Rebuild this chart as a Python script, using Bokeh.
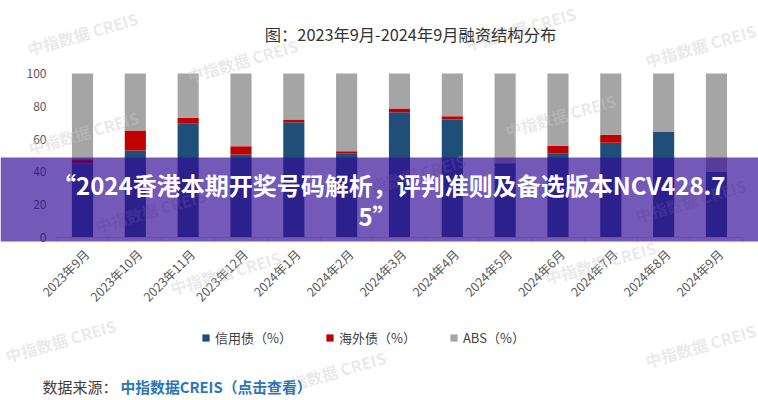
import math
from bokeh.plotting import figure
from bokeh.models import Label, BoxAnnotation, Legend, LegendItem, Range1d, ColumnDataSource
from bokeh.core.properties import value
from bokeh.embed import file_html
from bokeh.resources import INLINE

# ---- data ----
months = ["2023年9月", "2023年10月", "2023年11月", "2023年12月", "2024年1月", "2024年2月",
          "2024年3月", "2024年4月", "2024年5月", "2024年6月", "2024年7月", "2024年8月", "2024年9月"]
credit = [45.0, 53.0, 69.3, 50.6, 70.3, 51.0, 76.4, 72.0, 45.3, 51.0, 57.7, 64.6, 40.0]
overseas = [2.7, 12.2, 3.7, 5.1, 1.7, 1.6, 2.3, 2.0, 0.0, 5.0, 4.9, 0.0, 0.0]
abs_share = [52.3, 34.8, 27.0, 44.3, 28.0, 47.4, 21.3, 26.0, 54.7, 44.0, 37.4, 35.4, 60.0]
series = ["信用债（%）", "海外债（%）", "ABS（%）"]
y_ticks = [0, 20, 40, 60, 80, 100]
y_tick_labels = ["0", "20", "40", "60", "80", "100"]

title_text = "图：2023年9月-2024年9月融资结构分布"
banner_line1 = "“2024香港本期开奖号码解析，评判准则及备选版本NCV428.7"
banner_line2 = "5”"
source_label = "数据来源："
source_link = "中指数据CREIS（点击查看）"
watermark = "中指数据 CREIS"

FONT = "Noto Sans CJK SC"
colors = ["#1F4E79", "#C00000", "#A5A5A5"]

# ---- layout (pixels of the 758x400 canvas) ----
W, H = 758, 400
X0_PX, STEP_PX = 82.0, 52.83          # centre of first bar, distance between bars
Y0_PX, UNIT_PX = 237.0, 1.64          # pixel row of value 0, pixels per unit

def dx(px):
    return (px - X0_PX) / STEP_PX

def dy(py):
    return (Y0_PX - py) / UNIT_PX

idx = list(range(len(months)))
src = ColumnDataSource(dict(i=idx, month=months, credit=credit, overseas=overseas, abs=abs_share))

p = figure(width=W, height=H, x_range=Range1d(dx(0), dx(W)), y_range=Range1d(dy(H), dy(0)),
           output_backend="svg", toolbar_location=None, min_border=0,
           x_axis_type=None, y_axis_type=None)
p.title.visible = False
p.outline_line_color = None
p.xgrid.visible = False
p.ygrid.visible = False
p.background_fill_color = "white"
p.border_fill_color = "white"

rs = p.vbar_stack(["credit", "overseas", "abs"], x="i", width=0.4, color=colors,
                  source=src, line_color=None)

# axis baseline and boundary ticks
p.segment(x0=[-0.5], y0=[0], x1=[len(months) - 0.5], y1=[0], line_color="#d9d9d9", line_width=1)
bounds = [k - 0.5 for k in range(len(months) + 1)]
p.segment(x0=bounds, y0=[0] * len(bounds), x1=bounds, y1=[dy(Y0_PX + 5)] * len(bounds),
          line_color="#d9d9d9", line_width=1)

# y tick labels
p.text(x=[dx(46)] * len(y_ticks), y=y_ticks, text=y_tick_labels, text_align="right",
       text_baseline="middle", text_font=value(FONT), text_font_size="12px",
       text_color="#595959")

# x tick labels (rotated)
p.text(x="i", y=dy(251), text="month", source=src, angle=math.pi / 4, x_offset=4,
       text_align="right", text_baseline="middle", text_font=value(FONT),
       text_font_size="12.5px", text_color="#595959")

def label(text, px, py, size, color, align="left", bold=False, angle=0.0, alpha=1.0):
    p.add_layout(Label(x=px, y=H - py, x_units="screen", y_units="screen", text=text,
                       text_font=FONT, text_font_size=size, text_color=color,
                       text_align=align, text_baseline="middle", angle=angle,
                       text_alpha=alpha, text_font_style="bold" if bold else "normal"))

# watermarks
wm_pos = [(82, 33), (242, 60), (83, 132), (560, 115), (700, 45), (225, 272), (600, 262),
          (60, 340), (700, 345), (520, 28), (410, 175), (330, 372), (690, 200), (150, 210)]
for (x, y) in wm_pos:
    label(watermark, x, y, "16px", "#c8c8c8", align="center", bold=True,
          angle=math.radians(16), alpha=0.4)

# title
label(title_text, 410, 33, "16.3px", "#333333", align="center")

# legend
legend = Legend(items=[LegendItem(label=s, renderers=[r]) for s, r in zip(series, rs)],
                orientation="horizontal", location=(201, H - 327 - 20),
                label_text_font=FONT, label_text_font_size="13px", label_text_color="#404040",
                glyph_width=9, glyph_height=9, spacing=33, padding=0, margin=0,
                label_height=20, border_line_color=None, background_fill_alpha=0,
                label_standoff=5)
p.add_layout(legend, "center")

# source
label(source_label, 42, 386, "15px", "#404040")
label(source_link, 120, 386, "14.8px", "#2E75B6", bold=True)

# banner
p.add_layout(BoxAnnotation(left=0, right=W, top=H - 157, bottom=H - 241,
                           left_units="screen", right_units="screen",
                           top_units="screen", bottom_units="screen",
                           fill_color="#320A96", fill_alpha=0.68, line_color=None))
label(banner_line1, 725, 184, "24px", "white", align="right", bold=True)
label(banner_line2, 377, 215, "24px", "white", align="center", bold=True)

open("out.html", "w").write(file_html(p, INLINE))
